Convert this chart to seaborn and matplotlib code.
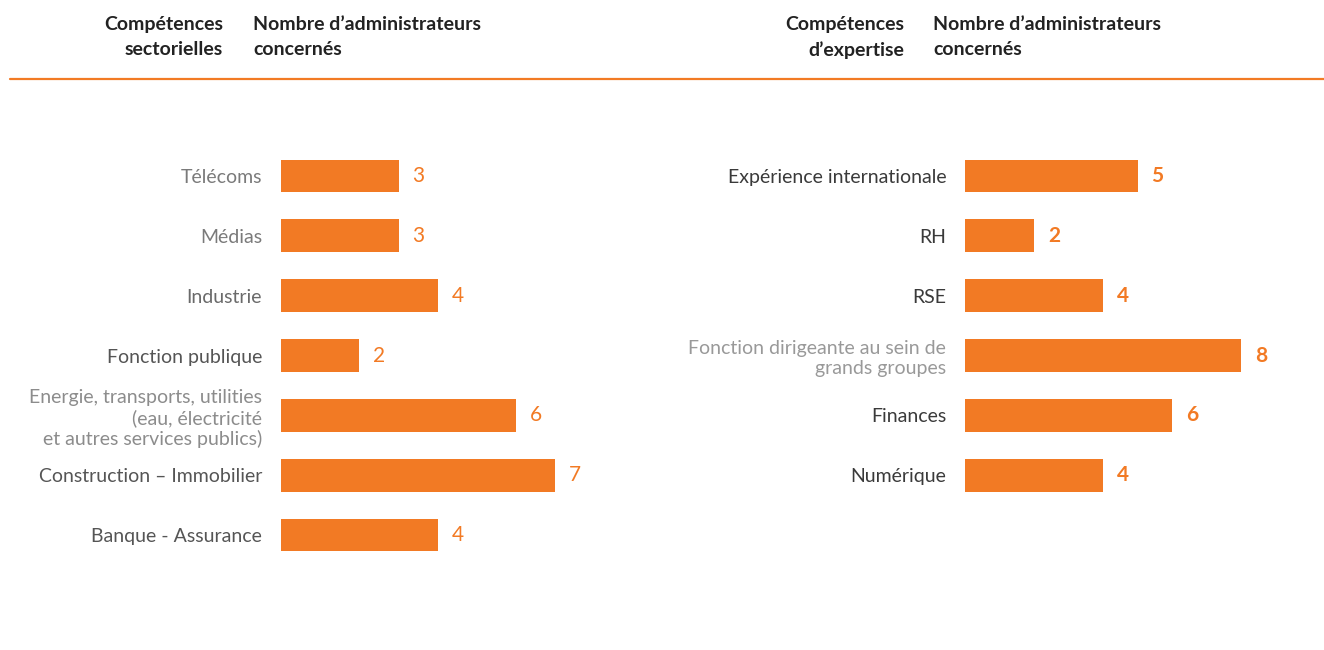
import matplotlib
matplotlib.use("Agg")
import matplotlib.pyplot as plt
import seaborn as sns
import pandas as pd

# DATA
sect_labels = ["Télécoms", "Médias", "Industrie", "Fonction publique",
               "Energie, transports, utilities\n(eau, électricité\net autres services publics)",
               "Construction – Immobilier", "Banque - Assurance"]
sect_values = [3, 3, 4, 2, 6, 7, 4]
sect_colors = ["#7a7a7a", "#7a7a7a", "#6a6a6a", "#555555", "#8c8c8c", "#555555", "#555555"]

exp_labels = ["Expérience internationale", "RH", "RSE",
              "Fonction dirigeante au sein de\ngrands groupes", "Finances", "Numérique"]
exp_values = [5, 2, 4, 8, 6, 4]
exp_colors = ["#3a3a3a", "#3a3a3a", "#3a3a3a", "#999999", "#3a3a3a", "#3a3a3a"]

headers = [("Compétences\nsectorielles", "Nombre d’administrateurs\nconcernés"),
           ("Compétences\nd’expertise", "Nombre d’administrateurs\nconcernés")]

ORANGE = "#F27A24"
sns.set_style("white")
plt.rcParams["font.family"] = ["Lato", "DejaVu Sans"]

W, H = 1324, 650
fig = plt.figure(figsize=(W / 100, H / 100), dpi=100)

def px_axes(x0, y0, w, h):
    return fig.add_axes([x0 / W, 1 - (y0 + h) / H, w / W, h / H])

# row spacing ~59.8 px, first row centre at y=176
top, bot = 176 - 29.9, 535 + 29.9
ax1 = px_axes(281, top, 39.2 * 9, bot - top)
ax2 = px_axes(965, top, 34.5 * 10, bot - top)

def draw(ax, labels, values, colors, xmax, bold):
    df = pd.DataFrame({"cat": labels, "val": values})
    sns.barplot(data=df, y="cat", x="val", orient="h", color=ORANGE,
                saturation=1, width=0.55, ax=ax, linewidth=0)
    ax.set_xlim(0, xmax)
    ax.set_ylim(6.5, -0.5)
    ax.set_xlabel("")
    ax.set_ylabel("")
    ax.set_xticks([])
    sns.despine(ax=ax, left=True, bottom=True)
    ax.tick_params(axis="y", length=0, pad=13.5)
    ax.set_yticks(range(len(labels)))
    ax.set_yticklabels(labels, fontsize=14)
    for t, c in zip(ax.get_yticklabels(), colors):
        t.set_color(c)
    ax.bar_label(ax.containers[0], labels=[str(v) for v in values], padding=10,
                 color=ORANGE, fontsize=15,
                 fontweight="bold" if bold else "normal")

draw(ax1, sect_labels, sect_values, sect_colors, 9, False)
draw(ax2, exp_labels, exp_values, exp_colors, 10, True)

# headers
for (h1, h2), xr, xl in zip(headers, [223, 904], [253, 933]):
    fig.text(xr / W, 1 - 16 / H, h1, ha="right", va="top", fontsize=14,
             fontweight="bold", color="#222222", linespacing=1.55)
    fig.text(xl / W, 1 - 16 / H, h2, ha="left", va="top", fontsize=14,
             fontweight="bold", color="#222222", linespacing=1.55)

fig.add_artist(plt.Line2D([10 / W, 1], [1 - 79 / H, 1 - 79 / H],
                          color=ORANGE, linewidth=1.6))

fig.savefig("out.png", dpi=100)
